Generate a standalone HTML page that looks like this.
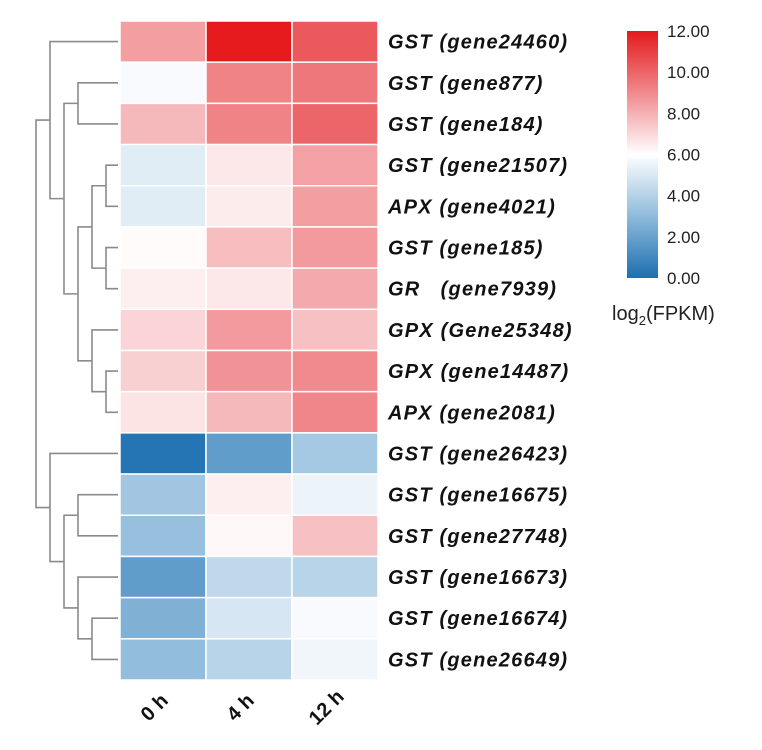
<!DOCTYPE html>
<html><head><meta charset="utf-8"><style>
body{margin:0;background:#fff;width:762px;height:750px;overflow:hidden}
svg{display:block}
text{font-family:"Liberation Sans",Arial,sans-serif;white-space:pre}
</style></head><body>
<svg id="chart" width="762" height="750">
<defs><linearGradient id="cbar" x1="0" y1="1" x2="0" y2="0">
<stop offset="0" stop-color="#1d6fb0"/><stop offset="0.25" stop-color="#8fbbdb"/><stop offset="0.5" stop-color="#ffffff"/><stop offset="0.75" stop-color="#f08a8e"/><stop offset="1" stop-color="#e41a1c"/></linearGradient></defs>
<g id="dendro"></g>
<g id="cells"></g>
<g id="rowlabels"></g>
<g id="collabels"></g>
<g>
<rect x="627" y="31" width="31" height="247" fill="url(#cbar)"/>
<g id="cticks"></g>
<text x="612" y="320" font-size="20" fill="#222">log<tspan font-size="13" dy="5">2</tspan><tspan dy="-5">(FPKM)</tspan></text>
</g>
</svg>
<script>
const columns = ["0 h","4 h","12 h"];
const genes = ["GST (gene24460)","GST (gene877)","GST (gene184)","GST (gene21507)","APX (gene4021)","GST (gene185)","GR   (gene7939)","GPX (Gene25348)","GPX (gene14487)","APX (gene2081)","GST (gene26423)","GST (gene16675)","GST (gene27748)","GST (gene16673)","GST (gene16674)","GST (gene26649)"];
const values0h = [8.5,5.8,7.8,5.2,5.2,6.1,6.4,7.1,7.2,6.7,0.2,3.5,3.2,1.8,2.6,3.1];
const values4h = [12,9.2,9.2,6.6,6.5,7.7,6.6,8.6,8.8,7.8,1.8,6.4,6.2,4.3,4.9,4.1];
const values12h = [10.3,9.5,10,8.4,8.5,8.6,8.2,7.6,9,9.1,3.6,5.5,7.6,4.1,5.8,5.6];
const legendTicks = [0,2,4,6,8,10,12];
// dendrogram merges: [left, right, height] ; negative = leaf -(i+1), positive = merge index (1-based)
const merges = [[-4,-5,1],[-6,-7,1],[1,2,2],[-9,-10,1],[-8,4,2],[3,5,3],[-2,-3,3],[7,6,4],[-1,8,5],
[-12,-13,3],[-15,-16,2],[-14,11,3],[10,12,4],[-11,13,5],[9,14,6]];

const NS="http://www.w3.org/2000/svg";
function mk(tag,attrs,parent){const e=document.createElementNS(NS,tag);for(const k in attrs)e.setAttribute(k,attrs[k]);parent.appendChild(e);return e;}
const X0=120,X1=378,Y0=21,Y1=680;
const cw=(X1-X0)/columns.length, rh=(Y1-Y0)/genes.length;
const xS=i=>X0+i*cw, yS=i=>Y0+i*rh;
const stops=[[0,[29,111,176]],[3,[143,187,219]],[6,[255,255,255]],[9,[240,138,142]],[12,[228,26,28]]];
function color(v){v=Math.max(0,Math.min(12,v));for(let i=0;i<stops.length-1;i++){const a=stops[i],b=stops[i+1];if(v<=b[0]){const t=(v-a[0])/(b[0]-a[0]);return "rgb("+a[1].map((c,j)=>Math.round(c+(b[1][j]-c)*t)).join(",")+")";}}}
const series=[values0h,values4h,values12h];
const cells=document.getElementById('cells');
series.forEach((s,c)=>s.forEach((v,r)=>{
 const el=mk('rect',{x:xS(c),y:yS(r),width:cw,height:rh,fill:color(v),stroke:'#fff','stroke-width':1.5},cells);
 
 
}));
const rl=document.getElementById('rowlabels');
genes.forEach((g,r)=>{
 const t=mk('text',{x:388,y:yS(r)+rh/2+7,'font-size':20,'font-weight':'bold','font-style':'italic','letter-spacing':1.2,fill:'#111'},rl);
 t.textContent=g;
 
 
});
const cl=document.getElementById('collabels');
columns.forEach((c,i)=>{
 const cx=xS(i)+cw/2-4, cy=712;
 const t=mk('text',{x:cx,y:cy,'font-size':20,'font-weight':'bold','text-anchor':'middle',fill:'#111',transform:'rotate(-45 '+cx+' '+cy+')'},cl);
 t.textContent=c;
 
 
});
const ct=document.getElementById('cticks');
legendTicks.forEach(v=>{
 const y=278-(v/12)*247+6;
 const t=mk('text',{x:667,y:y,'font-size':17,fill:'#222'},ct);
 t.textContent=v.toFixed(2);
 
 
});
const dg=document.getElementById('dendro');
const lx=h=>120-14*h;
const pos=[];
function node(id){if(id<0){return {x:118,y:yS(-id-1)+rh/2};}return pos[id-1];}
merges.forEach((m)=>{
 const a=node(m[0]),b=node(m[1]),x=lx(m[2]);
 const d='M'+a.x+','+a.y+'H'+x+'V'+b.y+'H'+b.x;
 const p=mk('path',{d:d,fill:'none',stroke:'#8a8a8a','stroke-width':1.6},dg);
 
 
 pos.push({x:x,y:(a.y+b.y)/2});
});
</script>
</body></html>
